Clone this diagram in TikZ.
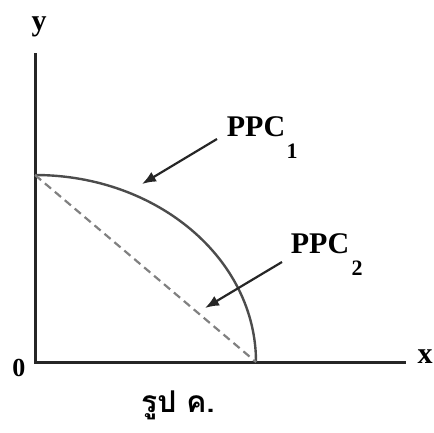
\documentclass[tikz,border=0pt]{standalone}
\usepackage{fontspec}
\setmainfont{Liberation Serif}
\newfontfamily\thaifont[Script=Thai]{Loma}
\usetikzlibrary{arrows.meta}
\begin{document}
\begin{tikzpicture}[x=1pt,y=-1pt,
  lbl/.style={font=\fontsize{30}{30}\selectfont\bfseries, inner sep=0pt},
  sub/.style={font=\fontsize{22}{22}\selectfont\bfseries, inner sep=0pt},
  axis/.style={line width=3pt, black!85},
  curve/.style={line width=2.4pt, black!70},
  dline/.style={line width=2.2pt, black!50, dash pattern=on 8pt off 5pt},
  pointer/.style={line width=2.2pt, black!85, -{Latex[length=14pt,width=11pt]}}]
\useasboundingbox (0,0) rectangle (434,432);
\coordinate (O) at (35,362);
\coordinate (Ytop) at (35,53);
\coordinate (Xend) at (406,362);
\coordinate (A) at (35,175);
\coordinate (B) at (256,362);
\draw[axis] (Ytop) -- (O) -- (Xend);
\draw[curve] (A) arc[start angle=-90, end angle=0, x radius=221, y radius=187];
\draw[dline] (A) -- (B);
\node[lbl] (ylab) at (39,27) {y};
\node[lbl] (xlab) at (425,357) {x};
\node[lbl, font=\fontsize{26}{26}\selectfont\bfseries] (zero) at (19,368) {0};
\node[lbl] (p1) at (256,127) {PPC};
\node[sub] (s1) at (292,151) {1};
\node[lbl] (p2) at (320,244) {PPC};
\node[sub] (s2) at (357,268) {2};
\coordinate (t1) at (142,184);
\coordinate (t2) at (205,308);
\draw[pointer] (217,139) -- (t1);
\draw[pointer] (282,262) -- (t2);
\node[inner sep=0pt, font=\fontsize{30}{30}\selectfont\thaifont\bfseries] (cap) at (178,405) {รูป ค.};
\end{tikzpicture}
\end{document}
